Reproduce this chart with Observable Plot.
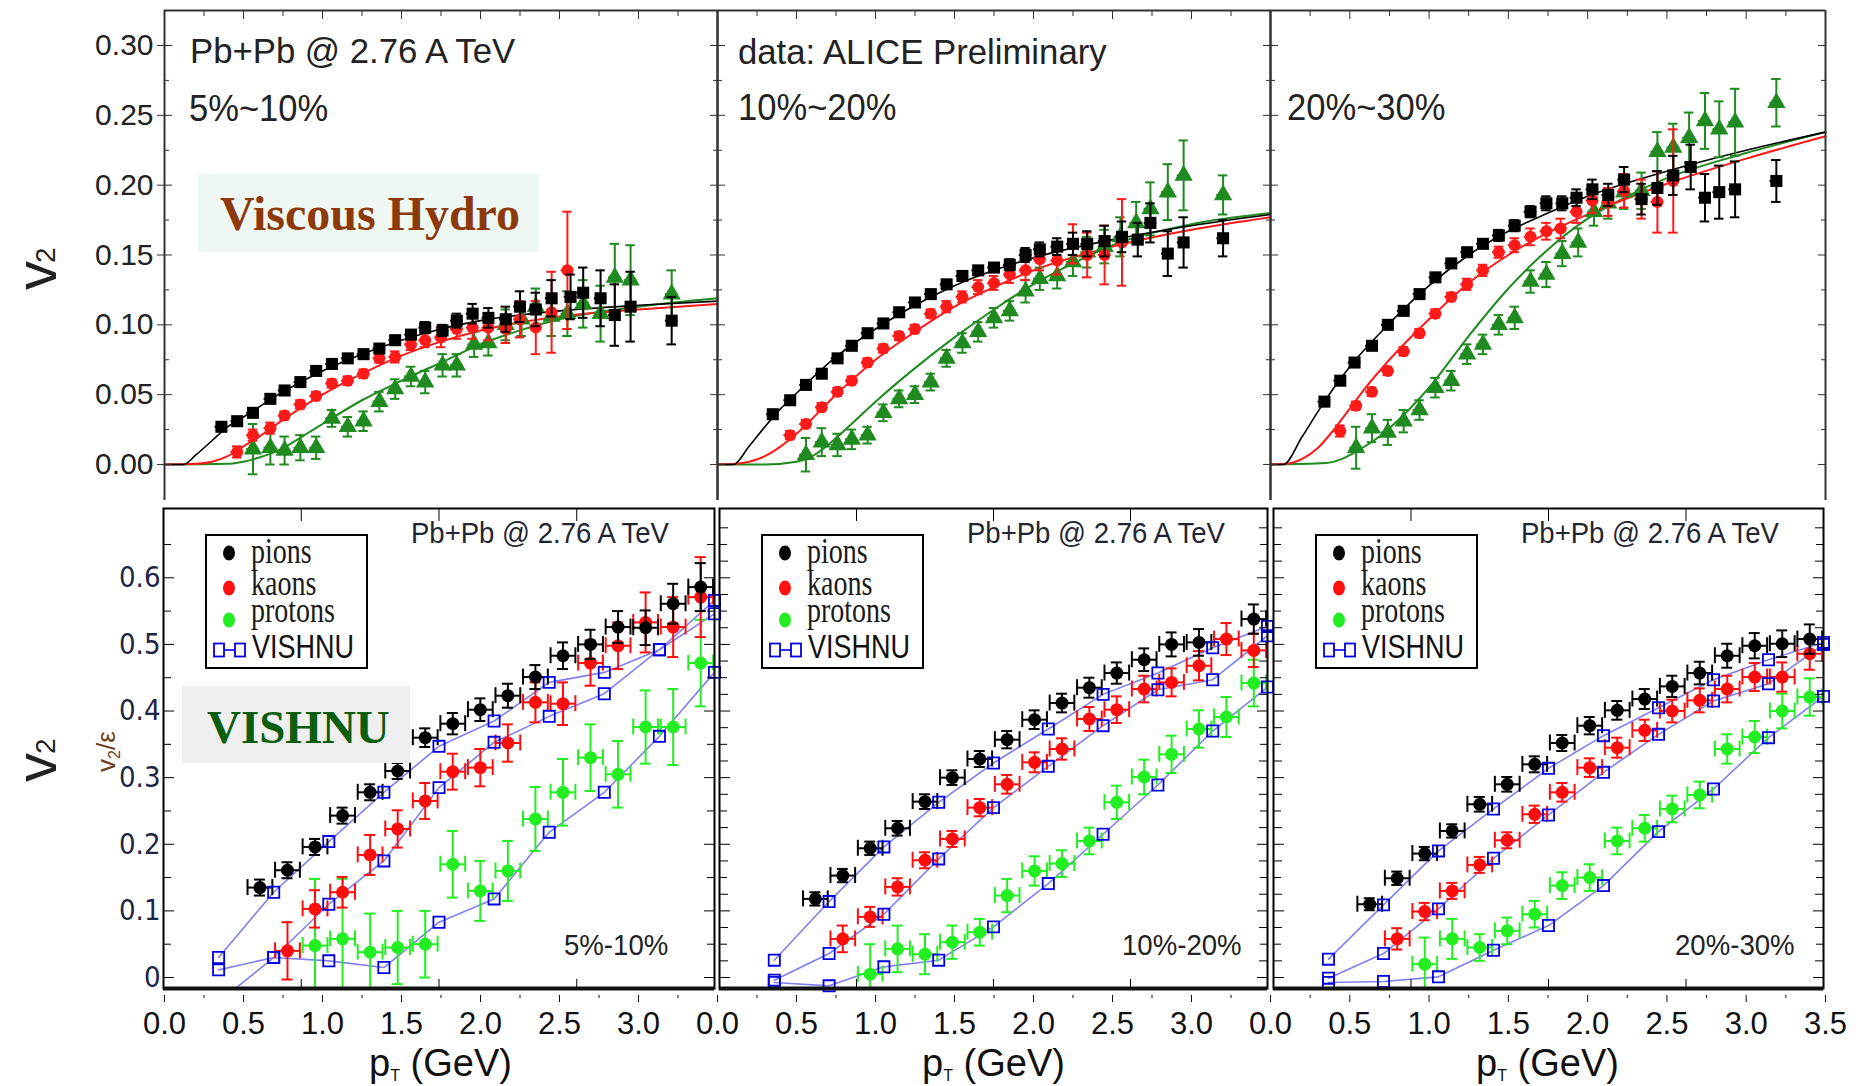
<!DOCTYPE html>
<html><head><meta charset="utf-8">
<script src="https://cdn.jsdelivr.net/npm/d3@7"></script>
<script src="https://cdn.jsdelivr.net/npm/@observablehq/plot@0.6"></script>
<style>
html,body{margin:0;padding:0;background:#fff}
body{position:relative;width:1858px;height:1086px;overflow:hidden;font-family:'Liberation Sans',Arial,sans-serif}
svg.pan{position:absolute}
</style></head><body>
<script>
// ---------------- DATA ----------------
// tick labels / categories
const topCentralities = ["5%~10%", "10%~20%", "20%~30%"];
const botCentralities = ["5%-10%", "10%-20%", "20%-30%"];
const topYTicks = [0, 0.05, 0.10, 0.15, 0.20, 0.25, 0.30];
const botYTicks = [0, 0.1, 0.2, 0.3, 0.4, 0.5, 0.6];
const pTTicks = [0, 0.5, 1.0, 1.5, 2.0, 2.5, 3.0, 3.5];

// Top row: ALICE preliminary v2 [pT, v2, err] and viscous hydro curves [pT, v2]
const top1_pions = [[0.36,0.027,0.002],[0.46,0.031,0.002],[0.56,0.037,0.002],[0.67,0.047,0.002],[0.76,0.053,0.002],[0.86,0.059,0.002],[0.96,0.067,0.002],[1.06,0.072,0.002],[1.16,0.076,0.002],[1.26,0.079,0.002],[1.36,0.083,0.003],[1.46,0.089,0.003],[1.56,0.093,0.003],[1.65,0.098,0.004],[1.76,0.096,0.004],[1.85,0.103,0.005],[1.95,0.108,0.007],[2.05,0.105,0.007],[2.16,0.104,0.009],[2.25,0.113,0.011],[2.35,0.111,0.012],[2.45,0.119,0.013],[2.57,0.120,0.016],[2.65,0.123,0.018],[2.76,0.119,0.020],[2.85,0.107,0.022],[2.95,0.113,0.025],[3.21,0.103,0.017]];
const top1_kaons = [[0.46,0.009,0.004],[0.56,0.021,0.004],[0.67,0.026,0.004],[0.76,0.035,0.003],[0.86,0.043,0.003],[0.96,0.049,0.003],[1.06,0.058,0.003],[1.16,0.060,0.003],[1.26,0.065,0.003],[1.36,0.076,0.003],[1.46,0.077,0.004],[1.56,0.086,0.004],[1.65,0.089,0.005],[1.75,0.091,0.007],[1.85,0.097,0.007],[1.95,0.098,0.008],[2.05,0.098,0.009],[2.16,0.097,0.010],[2.25,0.104,0.013],[2.35,0.098,0.019],[2.45,0.109,0.029],[2.55,0.139,0.042]];
const top1_protons = [[0.56,0.011,0.018],[0.67,0.012,0.012],[0.76,0.010,0.010],[0.86,0.012,0.009],[0.96,0.012,0.008],[1.06,0.033,0.006],[1.16,0.027,0.007],[1.26,0.031,0.007],[1.36,0.045,0.007],[1.46,0.054,0.007],[1.56,0.063,0.007],[1.65,0.059,0.008],[1.76,0.071,0.008],[1.85,0.071,0.008],[1.96,0.086,0.009],[2.05,0.087,0.009],[2.16,0.100,0.011],[2.26,0.104,0.012],[2.35,0.113,0.013],[2.45,0.106,0.014],[2.55,0.108,0.016],[2.65,0.115,0.017],[2.76,0.108,0.020],[2.85,0.134,0.024],[2.95,0.132,0.025],[3.21,0.122,0.017]];
const top1_hydro_pions = [[0,0],[0.12,0],[0.2,0.007],[0.3,0.017],[0.4,0.027],[0.5,0.034],[0.75,0.052],[1.0,0.067],[1.25,0.079],[1.5,0.089],[1.75,0.097],[2.0,0.103],[2.5,0.110],[3.0,0.114],[3.5,0.117]];
const top1_hydro_kaons = [[0,0],[0.2,0.0005],[0.3,0.002],[0.4,0.006],[0.5,0.013],[0.6,0.020],[0.75,0.032],[1.0,0.050],[1.25,0.065],[1.5,0.078],[1.75,0.088],[2.0,0.096],[2.5,0.106],[3.0,0.111],[3.5,0.115]];
const top1_hydro_protons = [[0,0],[0.4,0.0005],[0.5,0.002],[0.6,0.005],[0.7,0.009],[0.8,0.015],[0.9,0.022],[1.0,0.029],[1.25,0.046],[1.5,0.060],[1.75,0.073],[2.0,0.086],[2.25,0.096],[2.5,0.104],[3.0,0.113],[3.5,0.119]];

const top2_pions = [[0.35,0.036,0.002],[0.46,0.046,0.002],[0.56,0.057,0.002],[0.66,0.065,0.002],[0.76,0.076,0.002],[0.85,0.085,0.002],[0.95,0.094,0.002],[1.05,0.101,0.002],[1.15,0.109,0.002],[1.25,0.116,0.002],[1.35,0.122,0.002],[1.45,0.129,0.003],[1.55,0.135,0.003],[1.65,0.139,0.003],[1.75,0.141,0.003],[1.85,0.143,0.004],[1.95,0.150,0.005],[2.04,0.154,0.005],[2.15,0.156,0.006],[2.25,0.158,0.008],[2.34,0.158,0.009],[2.45,0.160,0.011],[2.56,0.163,0.011],[2.66,0.161,0.012],[2.74,0.173,0.014],[2.85,0.151,0.016],[2.95,0.159,0.018],[3.20,0.162,0.013]];
const top2_kaons = [[0.46,0.021,0.003],[0.56,0.029,0.003],[0.66,0.041,0.003],[0.76,0.052,0.003],[0.85,0.060,0.003],[0.95,0.073,0.003],[1.05,0.083,0.003],[1.15,0.092,0.003],[1.25,0.097,0.003],[1.35,0.108,0.003],[1.45,0.113,0.004],[1.55,0.120,0.004],[1.65,0.127,0.005],[1.75,0.130,0.005],[1.85,0.136,0.006],[1.95,0.139,0.007],[2.04,0.147,0.008],[2.15,0.146,0.010],[2.25,0.158,0.014],[2.34,0.150,0.016],[2.45,0.150,0.021],[2.56,0.159,0.031]];
const top2_protons = [[0.56,0.007,0.012],[0.66,0.016,0.010],[0.76,0.014,0.008],[0.85,0.018,0.007],[0.95,0.021,0.006],[1.05,0.037,0.006],[1.15,0.047,0.006],[1.25,0.050,0.006],[1.35,0.059,0.006],[1.45,0.076,0.006],[1.55,0.087,0.007],[1.65,0.095,0.007],[1.75,0.105,0.007],[1.85,0.110,0.007],[1.95,0.124,0.008],[2.04,0.133,0.008],[2.15,0.135,0.009],[2.25,0.145,0.010],[2.34,0.152,0.011],[2.45,0.156,0.012],[2.55,0.163,0.014],[2.65,0.173,0.015],[2.74,0.183,0.019],[2.85,0.195,0.020],[2.95,0.207,0.025],[3.20,0.193,0.014]];
const top2_hydro_pions = [[0,0],[0.1,0],[0.2,0.013],[0.3,0.027],[0.4,0.040],[0.5,0.051],[0.75,0.077],[1.0,0.097],[1.25,0.114],[1.5,0.128],[1.75,0.139],[2.0,0.148],[2.5,0.161],[3.0,0.171],[3.5,0.179]];
const top2_hydro_kaons = [[0,0],[0.12,0.0005],[0.2,0.002],[0.3,0.006],[0.4,0.013],[0.5,0.022],[0.75,0.050],[1.0,0.075],[1.25,0.095],[1.5,0.113],[1.75,0.127],[2.0,0.139],[2.5,0.156],[3.0,0.168],[3.5,0.177]];
const top2_hydro_protons = [[0,0],[0.3,0],[0.5,0.002],[0.6,0.006],[0.7,0.014],[0.8,0.024],[1.0,0.045],[1.25,0.069],[1.5,0.091],[1.75,0.111],[2.0,0.129],[2.25,0.144],[2.5,0.157],[3.0,0.172],[3.5,0.180]];

const top3_pions = [[0.34,0.045,0.002],[0.44,0.060,0.002],[0.53,0.073,0.002],[0.64,0.085,0.002],[0.74,0.100,0.002],[0.84,0.110,0.002],[0.94,0.122,0.002],[1.04,0.134,0.003],[1.14,0.144,0.003],[1.24,0.152,0.003],[1.34,0.158,0.003],[1.44,0.164,0.004],[1.54,0.171,0.004],[1.64,0.181,0.004],[1.74,0.187,0.005],[1.84,0.187,0.005],[1.93,0.191,0.006],[2.03,0.197,0.007],[2.13,0.193,0.008],[2.23,0.204,0.009],[2.34,0.190,0.011],[2.44,0.198,0.012],[2.54,0.207,0.014],[2.65,0.213,0.016],[2.74,0.191,0.017],[2.83,0.195,0.019],[2.93,0.197,0.020],[3.19,0.203,0.015]];
const top3_kaons = [[0.44,0.024,0.004],[0.54,0.042,0.003],[0.64,0.052,0.003],[0.74,0.067,0.003],[0.84,0.081,0.003],[0.94,0.094,0.003],[1.04,0.108,0.003],[1.14,0.120,0.003],[1.24,0.129,0.004],[1.34,0.139,0.004],[1.44,0.152,0.004],[1.54,0.157,0.005],[1.64,0.163,0.006],[1.74,0.167,0.006],[1.83,0.169,0.007],[1.93,0.181,0.008],[2.03,0.189,0.009],[2.13,0.188,0.010],[2.23,0.196,0.012],[2.34,0.190,0.014],[2.44,0.188,0.022],[2.54,0.203,0.037]];
const top3_protons = [[0.54,0.012,0.015],[0.64,0.026,0.010],[0.74,0.023,0.009],[0.84,0.031,0.008],[0.94,0.039,0.007],[1.04,0.055,0.007],[1.14,0.060,0.007],[1.24,0.079,0.007],[1.34,0.086,0.007],[1.44,0.100,0.007],[1.54,0.105,0.008],[1.64,0.131,0.008],[1.74,0.136,0.009],[1.84,0.151,0.009],[1.94,0.159,0.010],[2.04,0.181,0.010],[2.13,0.187,0.011],[2.23,0.195,0.012],[2.34,0.196,0.013],[2.44,0.224,0.014],[2.54,0.227,0.017],[2.64,0.234,0.018],[2.74,0.246,0.020],[2.83,0.240,0.020],[2.93,0.245,0.024],[3.19,0.259,0.017]];
const top3_hydro_pions = [[0,0],[0.08,0],[0.2,0.020],[0.3,0.038],[0.4,0.055],[0.5,0.070],[0.75,0.101],[1.0,0.128],[1.25,0.150],[1.5,0.167],[1.75,0.180],[2.0,0.192],[2.5,0.210],[3.0,0.225],[3.5,0.238]];
const top3_hydro_kaons = [[0,0],[0.1,0.0005],[0.2,0.004],[0.3,0.012],[0.4,0.025],[0.5,0.040],[0.6,0.055],[0.75,0.075],[1.0,0.104],[1.25,0.130],[1.5,0.150],[1.75,0.166],[2.0,0.179],[2.5,0.201],[3.0,0.219],[3.5,0.235]];
const top3_hydro_protons = [[0,0],[0.35,0.001],[0.45,0.004],[0.55,0.010],[0.65,0.017],[0.75,0.026],[1.0,0.055],[1.25,0.092],[1.5,0.126],[1.75,0.154],[2.0,0.176],[2.25,0.192],[2.5,0.205],[3.0,0.223],[3.5,0.238]];

// Bottom row: v2/eps data [pT, value, err] and VISHNU [pT, value]
const bot1_pions = [[0.35,0.135,0.012],[0.45,0.161,0.012],[0.55,0.196,0.012],[0.65,0.243,0.012],[0.75,0.278,0.012],[0.85,0.310,0.012],[0.95,0.360,0.014],[1.05,0.381,0.016],[1.15,0.402,0.017],[1.25,0.423,0.018],[1.35,0.451,0.018],[1.45,0.483,0.020],[1.55,0.500,0.022],[1.65,0.526,0.024],[1.75,0.525,0.026],[1.85,0.561,0.030],[1.95,0.586,0.036]];
const bot1_kaons = [[0.45,0.040,0.043],[0.55,0.103,0.028],[0.65,0.128,0.023],[0.75,0.184,0.030],[0.85,0.223,0.028],[0.95,0.265,0.027],[1.05,0.309,0.027],[1.15,0.315,0.028],[1.25,0.352,0.028],[1.35,0.413,0.030],[1.45,0.411,0.032],[1.55,0.472,0.034],[1.65,0.498,0.035],[1.75,0.533,0.045],[1.85,0.526,0.045],[1.95,0.571,0.060]];
const bot1_protons = [[0.55,0.048,0.100],[0.65,0.058,0.090],[0.75,0.038,0.058],[0.85,0.045,0.055],[0.95,0.050,0.050],[1.05,0.170,0.050],[1.15,0.130,0.045],[1.25,0.160,0.045],[1.35,0.238,0.048],[1.45,0.278,0.050],[1.55,0.330,0.050],[1.65,0.305,0.050],[1.75,0.376,0.055],[1.85,0.376,0.057],[1.95,0.472,0.065]];
const bot1_vishnu_pions = [[0.2,0.030],[0.4,0.128],[0.6,0.204],[0.8,0.278],[1.0,0.347],[1.2,0.385],[1.4,0.443],[1.6,0.458],[1.8,0.492],[2.0,0.566]];
const bot1_vishnu_kaons = [[0.2,-0.037],[0.4,0.030],[0.6,0.110],[0.8,0.175],[1.0,0.285],[1.2,0.353],[1.4,0.392],[1.6,0.426],[1.8,0.492],[2.0,0.546]];
const bot1_vishnu_protons = [[0.2,0.0115],[0.4,0.030],[0.6,0.025],[0.8,0.015],[1.0,0.083],[1.2,0.118],[1.4,0.218],[1.6,0.278],[1.8,0.362],[2.0,0.458]];

const bot2_pions = [[0.35,0.118,0.010],[0.45,0.153,0.010],[0.55,0.194,0.010],[0.65,0.224,0.011],[0.75,0.264,0.011],[0.85,0.300,0.011],[0.95,0.328,0.012],[1.05,0.357,0.013],[1.15,0.387,0.014],[1.25,0.412,0.014],[1.35,0.435,0.015],[1.45,0.457,0.016],[1.55,0.477,0.017],[1.65,0.500,0.018],[1.75,0.503,0.020],[1.95,0.538,0.022]];
const bot2_kaons = [[0.45,0.058,0.020],[0.55,0.091,0.015],[0.65,0.136,0.013],[0.75,0.176,0.012],[0.85,0.208,0.012],[0.95,0.255,0.013],[1.05,0.290,0.014],[1.15,0.323,0.015],[1.25,0.343,0.016],[1.35,0.388,0.018],[1.45,0.402,0.020],[1.55,0.433,0.020],[1.65,0.443,0.021],[1.75,0.468,0.022],[1.85,0.508,0.024],[1.95,0.491,0.025]];
const bot2_protons = [[0.55,0.005,0.045],[0.65,0.043,0.035],[0.75,0.035,0.030],[0.85,0.053,0.025],[0.95,0.068,0.020],[1.05,0.123,0.025],[1.15,0.160,0.022],[1.25,0.171,0.020],[1.35,0.205,0.020],[1.45,0.263,0.025],[1.55,0.301,0.026],[1.65,0.335,0.028],[1.75,0.373,0.028],[1.85,0.391,0.030],[1.95,0.442,0.035]];
const bot2_vishnu_pions = [[0.2,0.026],[0.4,0.114],[0.6,0.196],[0.8,0.263],[1.0,0.322],[1.2,0.373],[1.4,0.425],[1.6,0.457],[1.8,0.495],[2.0,0.527]];
const bot2_vishnu_kaons = [[0.2,-0.004],[0.4,0.036],[0.6,0.095],[0.8,0.178],[1.0,0.255],[1.2,0.317],[1.4,0.378],[1.6,0.432],[1.8,0.447],[2.0,0.513]];
const bot2_vishnu_protons = [[0.2,-0.0075],[0.4,-0.0125],[0.6,0.016],[0.8,0.026],[1.0,0.076],[1.2,0.141],[1.4,0.215],[1.6,0.289],[1.8,0.370],[2.0,0.436]];

const bot3_pions = [[0.35,0.110,0.009],[0.45,0.149,0.010],[0.55,0.186,0.010],[0.65,0.220,0.010],[0.75,0.260,0.011],[0.85,0.290,0.011],[0.95,0.320,0.012],[1.05,0.352,0.012],[1.15,0.378,0.013],[1.25,0.401,0.014],[1.35,0.418,0.015],[1.45,0.437,0.016],[1.55,0.457,0.017],[1.65,0.483,0.018],[1.75,0.498,0.019],[1.85,0.501,0.020],[1.95,0.508,0.022]];
const bot3_kaons = [[0.45,0.058,0.016],[0.55,0.099,0.013],[0.65,0.130,0.012],[0.75,0.169,0.012],[0.85,0.206,0.012],[0.95,0.245,0.013],[1.05,0.278,0.014],[1.15,0.315,0.014],[1.25,0.345,0.015],[1.35,0.371,0.016],[1.45,0.400,0.017],[1.55,0.416,0.018],[1.65,0.433,0.020],[1.75,0.451,0.021],[1.85,0.451,0.022],[1.95,0.486,0.024]];
const bot3_protons = [[0.55,0.020,0.040],[0.65,0.058,0.030],[0.75,0.045,0.020],[0.85,0.070,0.020],[0.95,0.095,0.020],[1.05,0.138,0.020],[1.15,0.150,0.020],[1.25,0.205,0.020],[1.35,0.224,0.020],[1.45,0.253,0.020],[1.55,0.274,0.020],[1.65,0.343,0.022],[1.75,0.361,0.024],[1.85,0.400,0.026],[1.95,0.421,0.028]];
const bot3_vishnu_pions = [[0.2,0.0275],[0.4,0.109],[0.6,0.190],[0.8,0.253],[1.0,0.314],[1.2,0.363],[1.4,0.405],[1.6,0.447],[1.8,0.477],[2.0,0.503]];
const bot3_vishnu_kaons = [[0.2,-0.001],[0.4,0.036],[0.6,0.103],[0.8,0.179],[1.0,0.244],[1.2,0.308],[1.4,0.365],[1.6,0.415],[1.8,0.441],[2.0,0.500]];
const bot3_vishnu_protons = [[0.2,-0.0075],[0.4,-0.006],[0.6,0.001],[0.8,0.041],[1.0,0.078],[1.2,0.138],[1.4,0.219],[1.6,0.283],[1.8,0.360],[2.0,0.422]];

// ---------------- LAYOUT / STYLE ----------------
const SANS = "'Liberation Sans', Arial, Helvetica, sans-serif";
const NARROW = "'Liberation Sans Narrow', 'Arial Narrow', 'DejaVu Sans Condensed', 'Liberation Sans', sans-serif";
const SERIF = "'Liberation Serif', 'Times New Roman', serif";
const topLeft = [164, 717, 1270], topRight = [717, 1270, 1825];
const botLeft = [163, 719, 1273], botRight = [714, 1267, 1823];
const TOP_Y0 = 10, TOP_Y1 = 500, TOP_DOM = [-0.02578, 0.32506];
const BOT_Y0 = 508, BOT_Y1 = 988, BOT_DOM = [-0.0165, 0.704];
const X = d => d[0], Y = d => d[1];
const noLab = () => "";
const range = (a, b, s) => d3.range(a, b + 1e-9, s).map(v => +v.toFixed(4));

function place(svg, left, top) {
  svg.classList.add("pan");
  svg.style.left = left + "px";
  svg.style.top = top + "px";
  svg.style.maxWidth = "none";
  document.body.appendChild(svg);
}

function errorMarks(data, c, capW, xErr, xCapH, sw, clip) {
  const o = {stroke: c, strokeWidth: sw, clip};
  const m = [
    Plot.ruleX(data, {x: X, y1: d => d[1] - d[2], y2: d => d[1] + d[2], ...o}),
    Plot.ruleY(data, {y: d => d[1] + d[2], x1: d => d[0] - capW, x2: d => d[0] + capW, ...o}),
    Plot.ruleY(data, {y: d => d[1] - d[2], x1: d => d[0] - capW, x2: d => d[0] + capW, ...o}),
    Plot.ruleY(data, {y: Y, x1: d => d[0] - xErr, x2: d => d[0] + xErr, ...o})
  ];
  if (xCapH > 0) {
    m.push(Plot.ruleX(data, {x: d => d[0] - xErr, y1: d => d[1] - xCapH, y2: d => d[1] + xCapH, ...o}));
    m.push(Plot.ruleX(data, {x: d => d[0] + xErr, y1: d => d[1] - xCapH, y2: d => d[1] + xCapH, ...o}));
  }
  return m;
}

function topPanel(i, pions, kaons, protons, hPi, hK, hP) {
  const mL = i === 0 ? 112 : 12, mR = 12, mT = 10, mB = 5;
  const W = topRight[i] - topLeft[i], H = TOP_Y1 - TOP_Y0;
  const C = {pi: "#000000", k: "#ff1a1a", p: "#1f8a1f"};
  const frameC = "#333";
  const marks = [
    Plot.line(hP, {x: X, y: Y, stroke: C.p, strokeWidth: 2, curve: "monotone-x"}),
    Plot.line(hK, {x: X, y: Y, stroke: C.k, strokeWidth: 2, curve: "monotone-x"}),
    Plot.line(hPi, {x: X, y: Y, stroke: C.pi, strokeWidth: 1.6, curve: "monotone-x"})
  ];
  for (const [data, c, sym, r] of [[protons, C.p, "triangle", 6.8], [kaons, C.k, "circle", 6], [pions, C.pi, "square", 6.8]]) {
    marks.push(...errorMarks(data, c, 0.03, 0.04, 0, 2, false));
    marks.push(Plot.dot(data, {x: X, y: Y, symbol: sym, r, fill: c}));
  }
  marks.push(
    Plot.ruleX([0, 3.5], {stroke: frameC, strokeWidth: 2}),
    Plot.ruleY([TOP_DOM[1]], {stroke: frameC, strokeWidth: 2}),
    Plot.axisX({ticks: range(0, 3.5, 0.5), anchor: "top", tickSize: -8, tickFormat: noLab, stroke: frameC, label: null}),
    Plot.axisX({ticks: range(0.25, 3.25, 0.5), anchor: "top", tickSize: -5, tickFormat: noLab, stroke: frameC, label: null}),
    Plot.axisY({ticks: topYTicks, anchor: "left", tickSize: -8, tickFormat: noLab, stroke: frameC, label: null}),
    Plot.axisY({ticks: range(0.025, 0.275, 0.05), anchor: "left", tickSize: -5, tickFormat: noLab, stroke: frameC, label: null}),
    Plot.axisY({ticks: topYTicks, anchor: "right", tickSize: -8, tickFormat: noLab, stroke: frameC, label: null}),
    Plot.axisY({ticks: range(0.025, 0.275, 0.05), anchor: "right", tickSize: -5, tickFormat: noLab, stroke: frameC, label: null})
  );
  if (i === 0) {
    marks.push(Plot.axisY({ticks: topYTicks, anchor: "left", tickSize: 7, tickPadding: 4, tickFormat: d3.format(".2f"),
      fontSize: 30, fontFamily: SANS, color: "#222", stroke: frameC, label: null}));
  }
  const svg = Plot.plot({
    width: W + mL + mR, height: H + mT + mB,
    marginLeft: mL, marginRight: mR, marginTop: mT, marginBottom: mB,
    x: {domain: [0, 3.5], axis: null}, y: {domain: TOP_DOM, axis: null},
    style: {background: "none", overflow: "visible", fontFamily: SANS, fontSize: "30px", color: "#222"},
    marks
  });
  place(svg, topLeft[i] - mL, TOP_Y0 - mT);
}

function botPanel(i, pions, kaons, protons, vPi, vK, vP) {
  const mL = i === 0 ? 70 : 12, mR = 12, mT = 12, mB = 12;
  const W = botRight[i] - botLeft[i], H = BOT_Y1 - BOT_Y0;
  const C = {pi: "#000000", k: "#ff0d0d", p: "#22ee22", v: "#0000e0", vl: "#8080f0"};
  const marks = [
    Plot.line(vP, {x: X, y: Y, stroke: C.vl, strokeWidth: 1.6, clip: true}),
    Plot.line(vK, {x: X, y: Y, stroke: C.vl, strokeWidth: 1.6, clip: true}),
    Plot.line(vPi, {x: X, y: Y, stroke: C.vl, strokeWidth: 1.6, clip: true})
  ];
  for (const [data, c] of [[protons, C.p], [kaons, C.k], [pions, C.pi]]) {
    marks.push(...errorMarks(data, c, 0.02, 0.045, 0.012, 2, true));
    marks.push(Plot.dot(data, {x: X, y: Y, r: 6.5, fill: c, clip: true}));
  }
  for (const v of [vP, vK, vPi]) {
    marks.push(Plot.dot(v.filter(d => d[1] > BOT_DOM[0]), {x: X, y: Y, symbol: "square", r: 6.3, stroke: C.v, strokeWidth: 1.8, fill: "none"}));
  }
  const yMinor = range(0.05, 0.65, 0.1);
  marks.push(
    Plot.frame({stroke: "#000", strokeWidth: 2}),
    Plot.ruleY([BOT_DOM[0]], {stroke: "#111", strokeWidth: 4}),
    Plot.axisX({ticks: [0.5, 1, 1.5], anchor: "top", tickSize: -12, tickFormat: noLab, stroke: "#000", label: null}),
    Plot.axisX({ticks: [0.5, 1, 1.5], anchor: "bottom", tickSize: -9, tickFormat: noLab, stroke: "#000", label: null}),
    Plot.axisY({ticks: botYTicks, anchor: "left", tickSize: -11, tickFormat: noLab, stroke: "#000", label: null}),
    Plot.axisY({ticks: yMinor, anchor: "left", tickSize: -8, tickFormat: noLab, stroke: "#000", label: null}),
    Plot.axisY({ticks: botYTicks, anchor: "right", tickSize: -11, tickFormat: noLab, stroke: "#000", label: null}),
    Plot.axisY({ticks: yMinor, anchor: "right", tickSize: -8, tickFormat: noLab, stroke: "#000", label: null})
  );
  if (i > 0) {
    const yFine = range(0.025, 0.675, 0.05);
    marks.push(
      Plot.axisY({ticks: yFine, anchor: "left", tickSize: -9, tickFormat: noLab, stroke: "#000", label: null}),
      Plot.axisY({ticks: yFine, anchor: "right", tickSize: -9, tickFormat: noLab, stroke: "#000", label: null})
    );
  }
  if (i === 0) {
    marks.push(Plot.axisY({ticks: botYTicks, anchor: "left", tickSize: 0, tickPadding: 3,
      tickFormat: d => d === 0 ? "0" : d.toFixed(1), fontSize: 29, fontFamily: NARROW, color: "#1d2545", label: null}));
  }
  const svg = Plot.plot({
    width: W + mL + mR, height: H + mT + mB,
    marginLeft: mL, marginRight: mR, marginTop: mT, marginBottom: mB,
    x: {domain: [0, 2], axis: null}, y: {domain: BOT_DOM, axis: null},
    style: {background: "none", overflow: "visible", fontFamily: SANS, fontSize: "28px", color: "#000"},
    marks
  });
  place(svg, botLeft[i] - mL, BOT_Y0 - mT);
}

function pTAxis(i) {
  const mL = 30, mR = 30;
  const W = topRight[i] - topLeft[i];
  const labels = i === 2 ? pTTicks : pTTicks.slice(0, 7);
  const svg = Plot.plot({
    width: W + mL + mR, height: 96,
    marginLeft: mL, marginRight: mR, marginTop: 0, marginBottom: 81,
    x: {domain: [0, 3.5], axis: null},
    style: {background: "none", overflow: "visible", fontFamily: SANS, fontSize: "31px", color: "#111"},
    marks: [
      Plot.axisX({ticks: labels, anchor: "bottom", tickSize: 7, tickPadding: 9, tickFormat: d3.format(".1f"),
        fontSize: 31, fontFamily: SANS, color: "#111", label: null}),
      Plot.axisX({ticks: range(0.25, 3.25, 0.5), anchor: "bottom", tickSize: 3, tickFormat: noLab, color: "#111", label: null})
    ]
  });
  place(svg, topLeft[i] - mL, 980);
}

topPanel(0, top1_pions, top1_kaons, top1_protons, top1_hydro_pions, top1_hydro_kaons, top1_hydro_protons);
topPanel(1, top2_pions, top2_kaons, top2_protons, top2_hydro_pions, top2_hydro_kaons, top2_hydro_protons);
topPanel(2, top3_pions, top3_kaons, top3_protons, top3_hydro_pions, top3_hydro_kaons, top3_hydro_protons);
botPanel(0, bot1_pions, bot1_kaons, bot1_protons, bot1_vishnu_pions, bot1_vishnu_kaons, bot1_vishnu_protons);
botPanel(1, bot2_pions, bot2_kaons, bot2_protons, bot2_vishnu_pions, bot2_vishnu_kaons, bot2_vishnu_protons);
botPanel(2, bot3_pions, bot3_kaons, bot3_protons, bot3_vishnu_pions, bot3_vishnu_kaons, bot3_vishnu_protons);
for (let i = 0; i < 3; i++) pTAxis(i);

// ---------------- ANNOTATIONS (overlay) ----------------
const ov = d3.select("body").append("svg")
  .attr("width", 1858).attr("height", 1086)
  .style("position", "absolute").style("left", "0px").style("top", "0px").style("pointer-events", "none");

function T(str, x, y, o = {}) {
  const t = ov.append("text")
    .attr("transform", `translate(${x},${y}) rotate(${o.rot || 0}) scale(${o.sx || 1},${o.sy || 1})`)
    .attr("font-size", o.fs || 36).attr("font-family", o.fam || SANS)
    .attr("fill", o.fill || "#222").attr("font-weight", o.weight || "normal")
    .attr("text-anchor", o.anchor || "start");
  t.text(str);
  return t;
}
function R(x, y, w, h, fill, stroke, sw) {
  ov.append("rect").attr("x", x).attr("y", y).attr("width", w).attr("height", h)
    .attr("fill", fill).attr("stroke", stroke || "none").attr("stroke-width", sw || 0);
}

// top row texts
T("Pb+Pb @ 2.76 A TeV", 190, 63, {fs: 36, sx: 0.965});
T("data: ALICE Preliminary", 738, 64, {fs: 36, sx: 0.965});
T(topCentralities[0], 189, 121, {fs: 36, sx: 0.96});
T(topCentralities[1], 738, 120, {fs: 36, sx: 0.96});
T(topCentralities[2], 1287, 120, {fs: 36, sx: 0.96});
R(198, 174, 341, 78, "#eef7f1");
T("Viscous Hydro", 220, 230, {fs: 48, fam: SERIF, weight: "bold", fill: "#8c3a0c"});

// bottom row texts and legends
for (let i = 0; i < 3; i++) {
  const L = botLeft[i];
  R(L + 43, 535, 161, 133, "#fff", "#000", 2);
  ov.append("ellipse").attr("cx", L + 66).attr("cy", 553).attr("rx", 6).attr("ry", 7.5).attr("fill", "#000");
  ov.append("ellipse").attr("cx", L + 66).attr("cy", 588).attr("rx", 6).attr("ry", 7.5).attr("fill", "#ff1010");
  ov.append("ellipse").attr("cx", L + 66).attr("cy", 620).attr("rx", 6).attr("ry", 7.5).attr("fill", "#22ee22");
  T("pions", L + 88, 563, {fs: 28, fam: SERIF, sy: 1.28, fill: "#1a1a1a"});
  T("kaons", L + 88, 595, {fs: 28, fam: SERIF, sy: 1.28, fill: "#1a1a1a"});
  T("protons", L + 88, 622, {fs: 28, fam: SERIF, sy: 1.28, fill: "#1a1a1a"});
  ov.append("line").attr("x1", L + 56).attr("x2", L + 77).attr("y1", 650).attr("y2", 650).attr("stroke", "#0000e0").attr("stroke-width", 1.6);
  for (const cx of [L + 56, L + 77]) {
    ov.append("rect").attr("x", cx - 5).attr("y", 643.5).attr("width", 10).attr("height", 13)
      .attr("fill", "#fff").attr("stroke", "#0000e0").attr("stroke-width", 1.8);
  }
  T("VISHNU", L + 89, 658, {fs: 27, sy: 1.2, fill: "#111"});
  T("Pb+Pb @ 2.76 A TeV", L + 248, 543, {fs: 29, sx: 0.95, fill: "#1f2633"});
}
T(botCentralities[0], 564, 955, {fs: 30, sx: 0.92, fill: "#222"});
T(botCentralities[1], 1122, 955, {fs: 30, sx: 0.92, fill: "#222"});
T(botCentralities[2], 1675, 955, {fs: 30, sx: 0.92, fill: "#222"});
R(182, 686, 228, 77, "#efefef");
T("VISHNU", 207, 743, {fs: 47, fam: SERIF, weight: "bold", fill: "#0b5e10"});

// axis titles
for (const yb of [[290, 263], [782, 754]]) {
  T("v", 56, yb[0], {fs: 58, rot: -90, fill: "#222"});
  T("2", 55, yb[1], {fs: 28, rot: -90, fill: "#222"});
}
{
  const t = ov.append("text").attr("transform", "translate(115,772) rotate(-90)")
    .attr("font-size", 26).attr("font-family", SANS).attr("fill", "#6e3e22");
  t.append("tspan").text("v");
  t.append("tspan").attr("font-size", 16).attr("dy", 5).text("2");
  t.append("tspan").attr("dy", -5).text("/ε");
}
for (let i = 0; i < 3; i++) {
  const cx = (topLeft[i] + topRight[i]) / 2;
  const t = ov.append("text").attr("x", cx).attr("y", 1076).attr("text-anchor", "middle")
    .attr("font-size", 38).attr("font-family", SANS).attr("fill", "#111");
  t.append("tspan").text("p");
  t.append("tspan").attr("font-size", 16).attr("dy", 5).text("T");
  t.append("tspan").attr("dy", -5).text(" (GeV)");
}
</script>
</body></html>
